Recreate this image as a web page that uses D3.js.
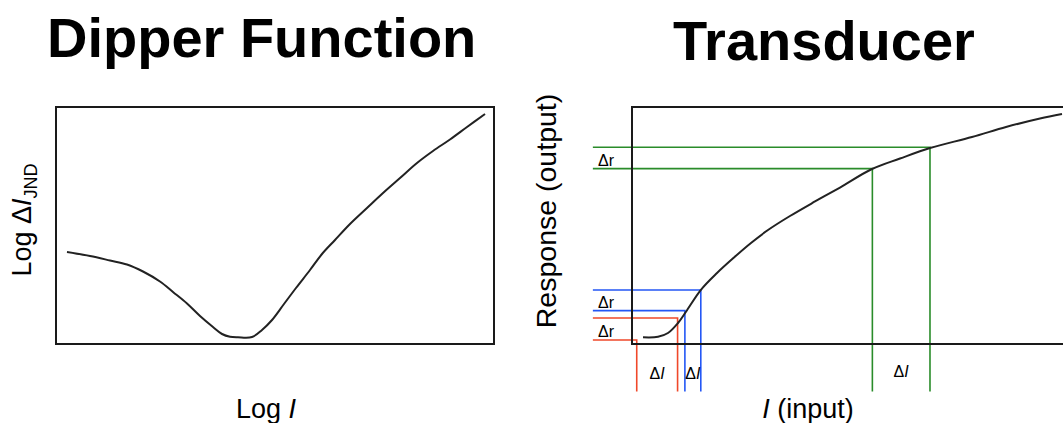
<!DOCTYPE html>
<html>
<head>
<meta charset="utf-8">
<script src="https://cdn.jsdelivr.net/npm/d3@7"></script>
<style>
  html, body { margin: 0; padding: 0; background: #fff; }
  svg { display: block; font-family: "Liberation Sans", Arial, Helvetica, sans-serif; }
</style>
</head>
<body>
<svg id="chart" width="1063" height="423"></svg>
<script>
// ---------- DATA ----------
// Dipper function (arbitrary log units, 0..10)
const dipperLogI = [0.251, 0.776, 1.233, 1.621, 1.986, 2.374, 2.671, 2.991, 3.288, 3.584, 3.790, 3.973, 4.155, 4.475, 4.703, 4.932, 5.205, 5.479, 5.799, 6.073, 6.370, 6.712, 7.100, 7.466, 7.854, 8.242, 8.607, 8.995, 9.384, 9.795];
const dipperLogJND = [3.882, 3.713, 3.523, 3.354, 3.059, 2.637, 2.194, 1.709, 1.181, 0.717, 0.422, 0.304, 0.283, 0.295, 0.591, 1.013, 1.688, 2.363, 3.122, 3.797, 4.388, 5.063, 5.738, 6.371, 7.004, 7.637, 8.143, 8.629, 9.156, 9.705];

// Transducer (arbitrary units, 0..10)
const transInput = [0.256, 0.605, 0.837, 1.070, 1.256, 1.598, 1.977, 2.372, 2.767, 3.163, 3.674, 4.256, 4.837, 5.581, 6.233, 6.930, 7.907, 8.698, 9.488, 10.0];
const transResponse = [0.283, 0.304, 0.464, 0.886, 1.363, 2.278, 2.996, 3.650, 4.262, 4.810, 5.401, 6.013, 6.603, 7.384, 7.827, 8.270, 8.734, 9.156, 9.515, 9.705];

// Probe points (pairs of pedestal / pedestal + ΔI)
const probeInput = [0.11, 1.06, 1.23, 1.60, 5.59, 6.93];
const probeResponse = [0.17, 1.10, 1.41, 2.28, 7.40, 8.30];
const probeGroup = ["red", "red", "blue", "blue", "green", "green"];

const groupColors = { red: "#f0482a", blue: "#2457f5", green: "#2a8c2a" };

// Label text
const titles = ["Dipper Function", "Transducer"];
const deltaR = "Δr";

// ---------- LAYOUT ----------
const svg = d3.select("#chart");

// Left panel scales
const xL = d3.scaleLinear().domain([0, 10]).range([56, 494]);
const yL = d3.scaleLinear().domain([0, 10]).range([344, 107]);

// Right panel scales
const xR = d3.scaleLinear().domain([0, 10]).range([632, 1062]);
const yR = d3.scaleLinear().domain([0, 10]).range([344, 107]);

// Titles
svg.append("text").attr("x", 47).attr("y", 57)
  .attr("font-size", 56).attr("font-weight", "bold").text(titles[0]);
svg.append("text").attr("x", 673).attr("y", 60)
  .attr("font-size", 56).attr("font-weight", "bold").text(titles[1]);

// ---- Left panel ----
svg.append("rect")
  .attr("x", xL(0)).attr("y", yL(10))
  .attr("width", xL(10) - xL(0)).attr("height", yL(0) - yL(10))
  .attr("fill", "none").attr("stroke", "#1a1a1a").attr("stroke-width", 2);

const lineL = d3.line().x((d, i) => xL(dipperLogI[i])).y(d => yL(d)).curve(d3.curveCatmullRom.alpha(0.5));
svg.append("path").datum(dipperLogJND)
  .attr("d", lineL).attr("fill", "none").attr("stroke", "#222").attr("stroke-width", 2);

// Left y label (rotated)
const ylab = svg.append("text")
  .attr("transform", `translate(31,220) rotate(-90)`)
  .attr("text-anchor", "middle").attr("font-size", 27);
ylab.append("tspan").text("Log Δ");
ylab.append("tspan").attr("font-style", "italic").text("I");
ylab.append("tspan").attr("font-size", 18).attr("dy", 6).text("JND");

// Left x label
const xlab = svg.append("text").attr("x", 266).attr("y", 418)
  .attr("text-anchor", "middle").attr("font-size", 27);
xlab.append("tspan").text("Log ");
xlab.append("tspan").attr("font-style", "italic").text("I");

// ---- Right panel ----
const guideStartX = -0.91;   // where the horizontal guides start (data units)
const guideEndY = -2.0;      // where the vertical guides end (data units)

const probes = probeInput.map((x, i) => ({ x, y: probeResponse[i], g: probeGroup[i] }));

// guides
probes.forEach(p => {
  svg.append("path")
    .attr("d", `M${xR(guideStartX)},${yR(p.y)}H${xR(p.x)}V${yR(guideEndY)}`)
    .attr("fill", "none").attr("stroke", groupColors[p.g]).attr("stroke-width", 1.6);
});

svg.append("rect")
  .attr("x", xR(0)).attr("y", yR(10))
  .attr("width", xR(10.6) - xR(0)).attr("height", yR(0) - yR(10))
  .attr("fill", "none").attr("stroke", "#1a1a1a").attr("stroke-width", 2);

const lineR = d3.line().x((d, i) => xR(transInput[i])).y(d => yR(d)).curve(d3.curveCatmullRom.alpha(0.5));
svg.append("path").datum(transResponse)
  .attr("d", lineR).attr("fill", "none").attr("stroke", "#222").attr("stroke-width", 2);

// Δr and ΔI labels
const groups = ["red", "blue", "green"];
groups.forEach(g => {
  const ps = probes.filter(p => p.g === g);
  const yLo = ps[0].y;
  svg.append("text").attr("x", 598).attr("y", yR(yLo) - 3)
    .attr("font-size", 16).text(deltaR);
  const t = svg.append("text")
    .attr("x", (xR(ps[0].x) + xR(ps[1].x)) / 2)
    .attr("y", g === "green" ? 377 : 379)
    .attr("text-anchor", "middle").attr("font-size", 16);
  t.append("tspan").text("Δ");
  t.append("tspan").attr("font-style", "italic").text("I");
});

// Right y label
svg.append("text")
  .attr("transform", `translate(556,211) rotate(-90)`)
  .attr("text-anchor", "middle").attr("font-size", 28.5).text("Response (output)");

// Right x label
const xlabR = svg.append("text").attr("x", 808).attr("y", 418)
  .attr("text-anchor", "middle").attr("font-size", 27);
xlabR.append("tspan").attr("font-style", "italic").text("I");
xlabR.append("tspan").text(" (input)");
</script>
</body>
</html>
